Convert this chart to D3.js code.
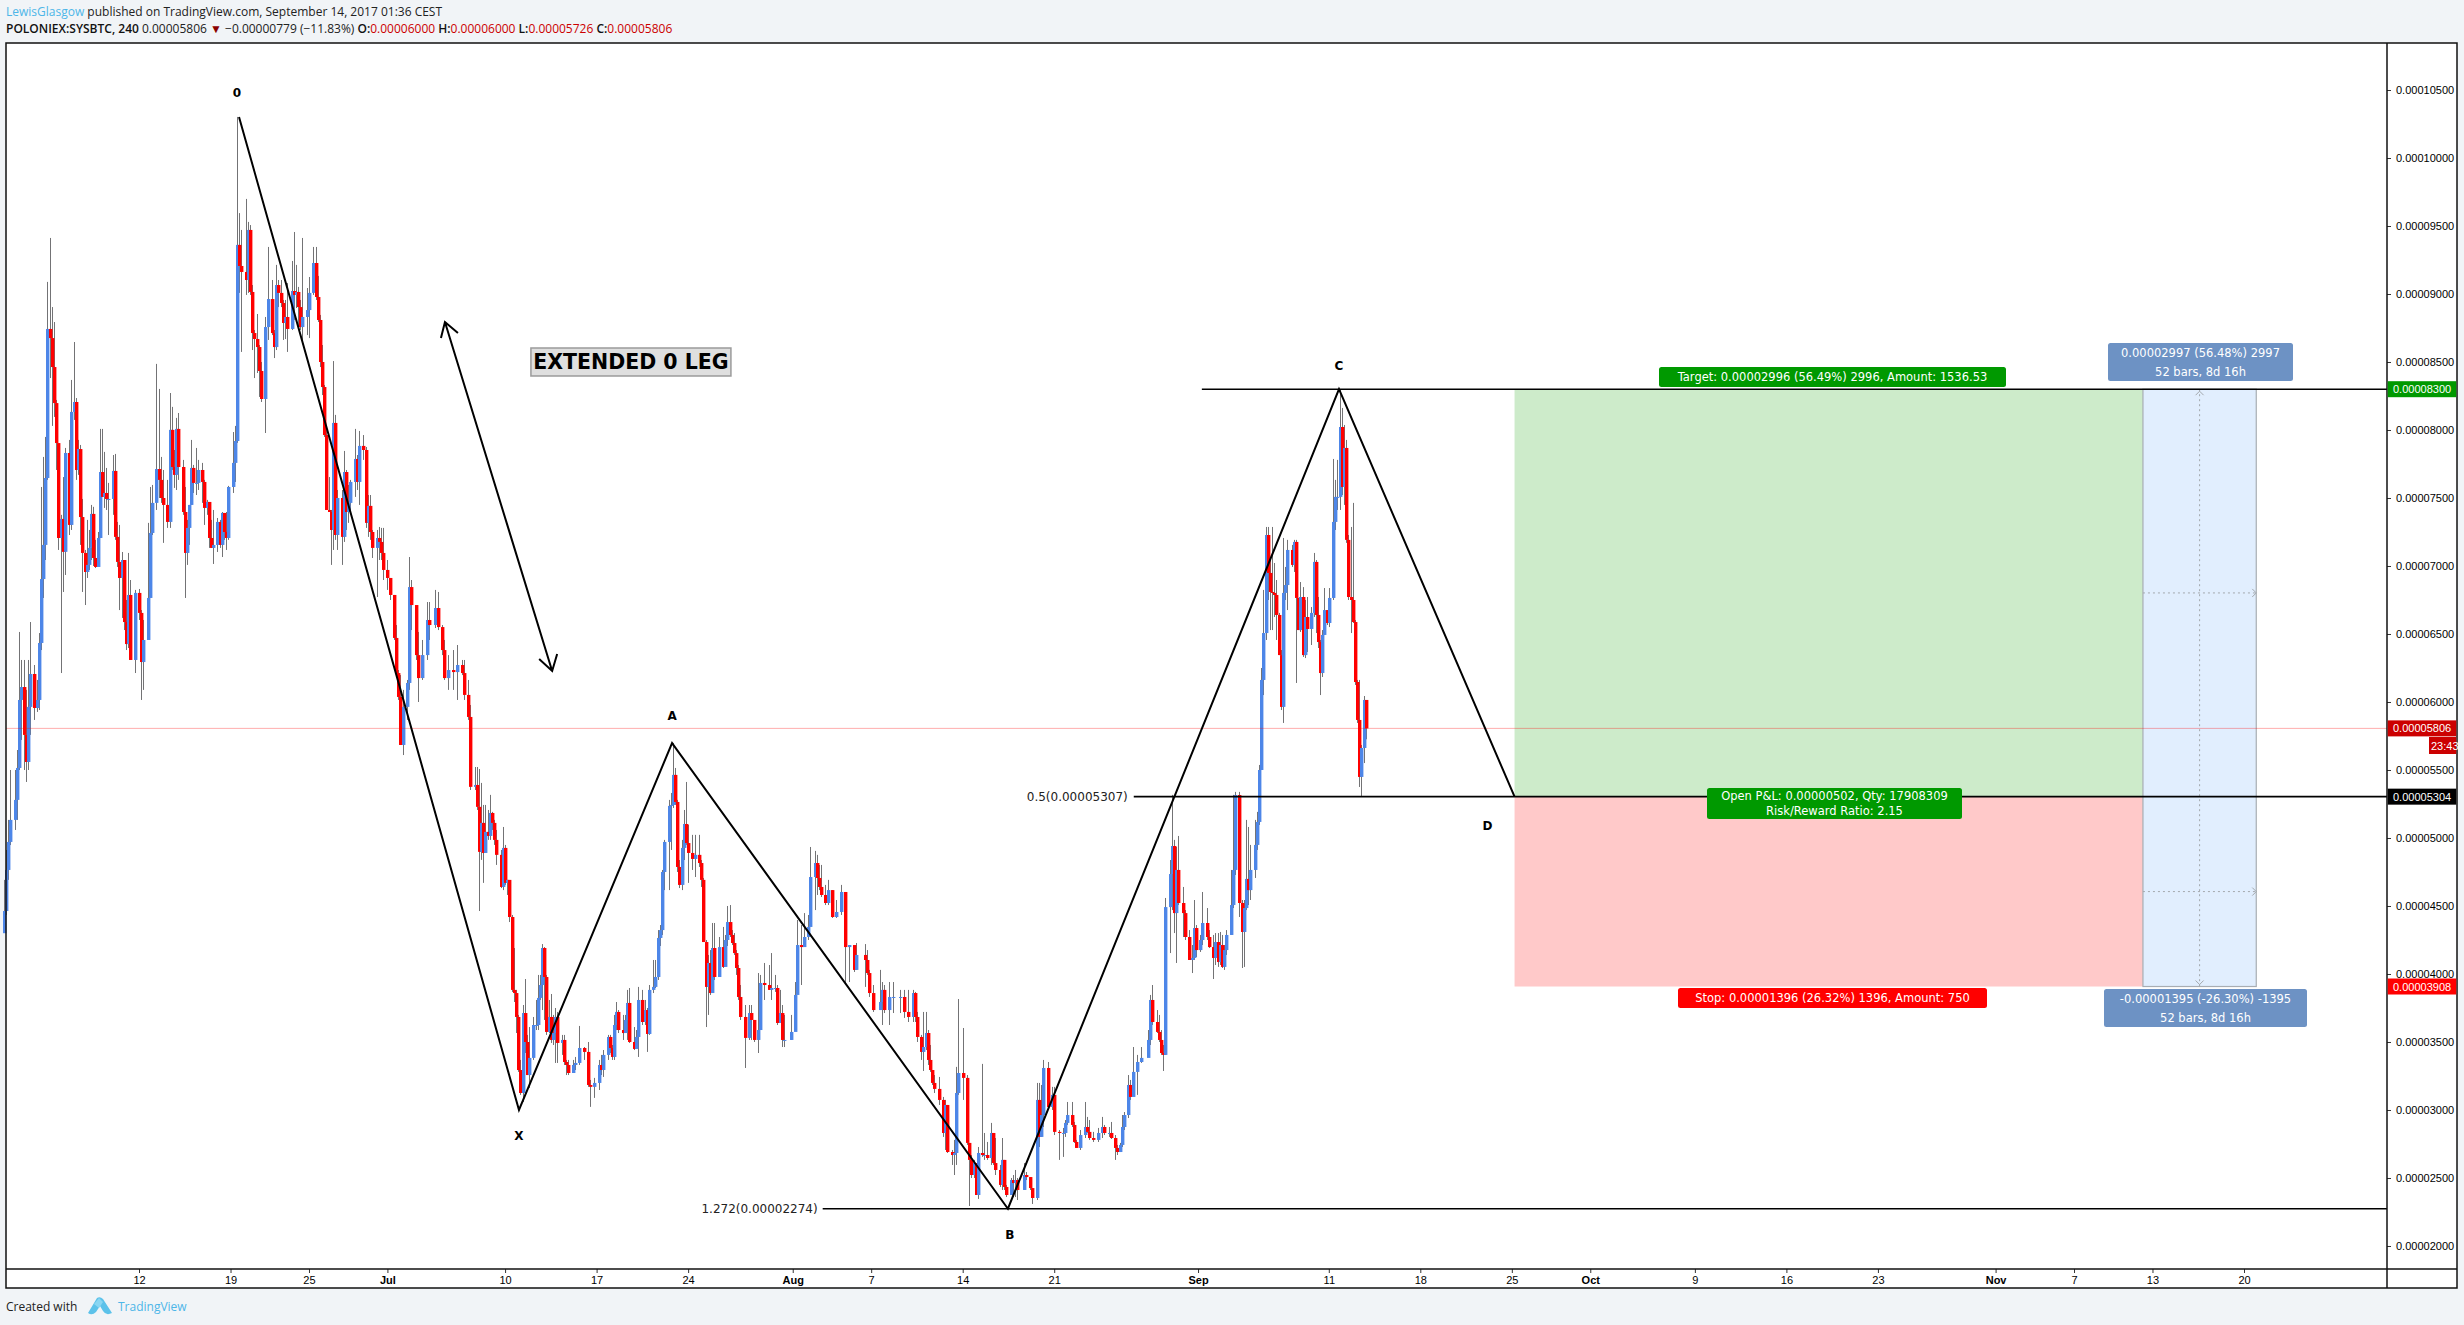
<!DOCTYPE html>
<html><head><meta charset="utf-8">
<script src="https://cdnjs.cloudflare.com/ajax/libs/d3/7.8.5/d3.min.js"></script>
<style>html,body{margin:0;padding:0;background:#f1f4f7}svg{display:block}</style>
</head><body><svg id="c" width="2464" height="1325"></svg>
<script>
// Candles: [4h bar number since 1 Jun 16:00, close, high, low], prices in 1e-8 BTC
const juneBars=[[0,4463,4692,4323],[1,4765,4912,4434],[2,4971,5133,4692],[3,5133,5500,4948],[5,5280,5500,5059],[6,5515,5647,5133],[7,6015,6515,5500],[8,6110,6309,5721],[9,5758,6309,5500],[10,5559,6089,5412],[11,5964,6309,5500],[12,6206,6588,5758],[14,5956,6272,5868],[15,6015,6162,5927],[16,6434,6507,5941],[17,6904,7581,6382],[18,7155,7802,6765],[19,7647,7949,7044],[20,8743,9089,7633],[21,8676,9412,8382],[22,8463,8904,8030],[23,8198,8794,8096],[24,7904,8221,7706],[25,7206,7890,7118],[26,7346,7376,6213],[27,7104,7654,6809],[28,7831,7868,6934],[30,7302,7927,7228],[31,8133,8368,7265],[32,8206,8647,8074],[33,7706,8235,7633],[34,7860,7927,7670],[35,7360,7890,7155],[36,7096,7493,6809],[37,6956,7118,6713],[38,7008,7339,6912],[39,7133,7265,6971],[40,7383,7449,7044],[41,7059,7435,7000],[42,6993,7192,6985],[43,7206,7250,7000],[44,7691,8008,7228],[45,7508,8008,7508],[46,7537,7839,7427],[47,7493,7721,7412],[48,7493,7611,7228],[50,7699,7816,7376],[51,7214,7824,7192],[52,7030,7324,6993],[53,6912,7302,6676],[54,7044,7103,6618],[55,6588,7044,6529],[56,6426,6750,6382],[57,6787,7096,6397],[58,6309,6897,6309],[60,6802,6824,6213],[62,6655,6831,6603],[63,6294,6676,6015],[64,6456,6603,6089],[66,6765,7317,6478],[67,7243,7581,7030],[68,7464,7596,7228],[70,7713,8486,7412],[71,7633,8302,7500],[72,7500,7802,7464],[73,7449,7706,7170],[75,7324,7633,7280],[76,8001,8272,7280],[77,7728,8170,7706],[78,7670,7853,7574],[79,8008,8089,7559],[80,7728,8125,7633],[82,7397,7780,7376],[83,7096,7581,6765],[84,7280,7339,7008],[85,7449,7449,7155],[86,7721,7927,7449],[87,7611,7743,7537],[88,7611,7868,7522],[89,7706,7780,7559],[91,7618,7758,7464],[92,7427,7633,7302],[93,7471,7486,7376],[94,7206,7449,7133],[95,7133,7339,7133],[96,7155,7412,7015],[98,7324,7353,7103],[99,7155,7339,7133],[100,7390,7397,7066],[101,7250,7390,7192],[102,7206,7397,7118],[103,7581,7589,7192],[105,7758,7985,7537],[106,7919,8030,7618],[107,9361,10302,7905],[108,9206,9595,9008],[109,9162,9471,8574],[111,9103,9699,8993],[112,9471,9530,9008],[113,9015,9507,8993],[114,8713,9066,8588],[115,8669,8735,8382],[116,8610,8853,8419],[117,8434,8625,8243],[118,8228,8500,8206],[120,8757,8831,7978],[121,8963,9346,8662],[123,8713,9103,8698],[124,8610,8735,8529],[125,9066,9214,8588],[126,9008,9103,8904],[127,8934,9103,8904],[128,8787,8956,8662],[129,8831,8956,8669],[130,8743,9081,8574],[132,9022,9243,8735],[133,8993,9456,8809],[134,9015,9214,8897],[135,8904,9052,8757],[136,8757,8956,8735],[137,8831,9412,8662],[139,8882,9044,8698],[140,9008,9125,8676],[142,9228,9346,8993],[143,8978,9346,8956],[144,8809,9133,8794],[145,8500,8846,8463],[146,8316,8625,8257],[147,7963,8331,7949],[148,7412,8001,7412],[149,7397,7654,7397],[150,7265,7412,7008],[151,8052,8507,7118],[152,7228,8111,7192],[153,7500,7559,7118],[155,7214,7559,7008],[156,7691,7846,7177],[157,7397,7706,7265],[158,7464,7596,7317],[159,7618,7633,7412],[161,7787,8008,7508],[162,7618,7816,7559],[163,7883,7993,7449],[165,7853,7963,7780],[166,7317,7875,7280],[167,7442,7522,7214],[168,7250,7522,7192],[169,7133,7265,7059],[171,7206,7265,6772],[172,7177,7287,7044],[173,7096,7280,7044],[174,6971,7280,6897],[176,6912,7044,6824]];
const julyBars=[[177,6787,6912,6750],[179,6471,6787,6456],[180,6213,6566,6184],[181,6037,6235,6015],[182,5684,6198,5684],[183,5964,6089,5610],[185,6140,6162,5868],[186,6845,7066,6089],[187,6713,6897,6529],[189,6345,6655,6309],[190,6176,6515,6000],[192,6345,6456,6162],[194,6603,6735,6309],[195,6566,6735,6456],[198,6691,6824,6544],[199,6551,6809,6529],[201,6382,6566,6345],[202,6176,6456,6162],[204,6235,6345,6089],[206,6220,6382,6089],[208,6272,6419,6015],[210,6213,6309,6198],[211,6052,6309,6015],[213,5890,6162,5868],[214,5376,5978,5353],[216,5390,5522,5353],[217,5229,5522,5206],[218,4898,5507,4463],[219,5111,5405,4839],[220,4890,5243,4670],[221,5045,5243,4898],[222,5015,5206,4986],[223,5184,5317,4986],[224,5111,5192,5059],[225,4986,5133,4949],[226,4876,5059,4802],[228,4640,4912,4632],[229,4927,5081,4617],[230,4670,4949,4655],[231,4692,4692,4581],[232,4419,4655,4382],[233,3883,4434,3868],[234,3860,4191,3794],[235,3684,3883,3566],[236,3294,3699,3280],[237,3125,3368,3111],[238,3713,3772,3059],[239,3500,3963,3419],[240,3257,3552,3257],[241,3383,3610,3162],[243,3625,3684,3368],[244,3625,3809,3588],[245,3824,3993,3588],[246,3919,3993,3809],[247,4191,4220,3735],[248,3978,4198,3662],[249,3574,3993,3552],[250,3684,3809,3566],[251,3515,3853,3493],[252,3566,3699,3478],[253,3684,3750,3346],[254,3493,3721,3346],[256,3515,3552,3405],[257,3353,3552,3331],[258,3331,3368,3257],[259,3272,3368,3257],[261,3331,3368,3272],[262,3346,3390,3294],[264,3456,3618,3331],[266,3427,3463,3368],[268,3184,3500,3170],[269,3170,3221,3023],[271,3199,3236,3089],[273,3331,3368,3147],[274,3294,3405,3257],[275,3405,3441,3243],[277,3537,3552,3368],[278,3456,3552,3419],[279,3390,3478,3368],[280,3625,3699,3368],[281,3721,3794,3588],[282,3588,3735,3566],[284,3566,3699,3515],[285,3662,3699,3566],[286,3787,3883,3515],[287,3500,3897,3493],[289,3449,3610,3441],[290,3537,3588,3463],[291,3809,3905,3390],[293,3647,3883,3625],[294,3735,3809,3625],[295,3559,3750,3427],[296,3883,3919,3552],[298,3905,4103,3860],[299,3978,4103,3897],[300,4265,4323,3956],[301,4323,4360,4206],[302,4750,4765,4287],[303,4971,4986,4617],[305,5236,5280,4617],[306,5243,5331,4912],[307,5464,5699,5221],[308,5265,5515,5243],[309,4787,5280,4750],[310,4655,4838,4632],[311,4927,4986,4617],[312,5103,5206,4838],[313,4963,5412,4949],[314,4890,5096,4670],[316,4846,5023,4765],[317,4876,5023,4713],[319,4816,5023,4787],[320,4692,4838,4640],[321,4235,4706,4235],[322,3905,4250,3610],[323,4081,4140,3699],[324,3860,4176,3846],[325,4191,4375,3905],[326,3978,4375,3956],[328,4198,4272,4103],[330,4052,4346,4044],[331,4250,4287,4103],[332,4382,4500,4206],[333,4287,4507,4272],[334,4228,4323,4213],[335,4154,4301,4140],[336,4044,4176,3993],[337,3831,4066,3809],[338,3684,3919,3662],[340,3530,3772,3309],[342,3713,3772,3515],[343,3662,3772,3515],[344,3515,3662,3500],[346,3588,4007,3419],[347,3934,3993,3625],[349,3919,4081,3809],[351,3883,4066,3883],[352,3897,4154,3809],[354,3897,3993,3868],[355,3640,3919,3625],[356,3713,3883,3699],[357,3515,3772,3463],[358,3515,3699,3463],[361,3574,3699,3515]];
const augustBars=[[363,3846,3941,3684],[364,4213,4397,3934],[366,4198,4360,3919],[367,4272,4448,4213],[369,4346,4434,4250],[370,4713,4934,4404],[372,4816,4905,4470],[373,4706,4876,4581],[374,4640,4802,4617],[375,4581,4802,4566],[377,4522,4655,4507],[378,4617,4692,4507],[380,4419,4617,4412],[382,4456,4544,4412],[384,4603,4655,4434],[386,4198,4603,3934],[388,4213,4213,3941],[390,4030,4198,4015],[391,4140,4228,4030],[395,4103,4220,3905],[396,4007,4176,3993],[397,3860,4030,3831],[399,3735,3919,3721],[402,3794,4030,3735],[403,3883,3941,3625],[404,3735,3919,3713],[406,3831,3941,3625],[408,3831,3941,3713],[411,3831,3883,3713],[413,3721,3883,3677],[415,3684,3883,3647],[417,3860,3883,3647],[418,3684,3868,3647],[419,3537,3721,3500],[421,3427,3552,3368],[422,3463,3721,3287],[423,3566,3721,3441],[424,3368,3588,3331],[425,3294,3478,3280],[426,3199,3257,3184],[427,3155,3257,3125],[429,3074,3243,3037],[431,2831,3096,2802],[432,3037,3074,2706],[433,2691,3037,2684],[435,2669,2706,2596],[436,2684,2780,2522],[437,3125,3317,2596],[438,3272,3816,3111],[440,3236,3603,3074],[442,2758,3257,2743],[443,2633,2758,2294],[444,2522,2669,2500],[445,2610,2633,2500],[446,2375,2610,2375],[447,2684,2728,2346],[449,2669,3339,2655],[450,2669,2831,2633],[451,2647,2765,2633],[453,2831,2905,2596],[454,2610,2831,2596],[455,2559,2794,2522],[457,2449,2596,2434],[458,2633,2794,2412],[459,2434,2633,2412],[460,2375,2449,2360],[462,2485,2500,2375],[463,2463,2522,2360],[464,2485,2559,2360],[465,2412,2500,2338],[468,2522,2610,2412],[469,2507,2544,2485],[471,2426,2507,2412],[472,2353,2426,2309],[474,3074,3199,2338],[475,2802,3199,2728],[476,2963,3184,2802],[477,3309,3368,2875],[479,3022,3353,3015],[481,3111,3170,3000],[482,2839,3170,2816],[484,2831,2853,2633],[486,2831,2868,2655],[487,2905,2926,2802],[488,2963,3059,2890],[490,2890,3059,2875],[491,2765,2912,2758],[492,2721,2780,2721],[494,2816,2853,2706],[496,2875,3059,2794],[497,2839,2949,2831],[498,2794,2926,2780],[500,2780,2839,2765],[502,2831,2868,2765],[504,2875,2949,2794],[505,2831,2890,2816],[507,2831,2875,2802],[508,2794,2912,2787],[510,2721,2816,2633],[511,2691,2743,2669],[512,2743,2758,2691],[513,2875,2963,2728],[514,2963,2985,2853],[516,3184,3257,2941],[517,3096,3221,3074],[518,3280,3463,3111],[520,3353,3405,3111],[522,3383,3463,3346],[525,3515,3588,3441],[526,3809,3846,3478],[527,3647,3919,3625],[529,3574,3735,3566],[530,3515,3699,3500],[531,3419,3588,3405],[532,3405,3478,3287],[533,4492,4559,3405],[535,4735,4838,4154],[536,4941,5317,4470],[537,4448,4986,4301],[538,4765,4934,4081],[539,4522,5015,4507],[541,4448,4640,4272],[542,4272,4470,4250],[544,4103,4323,4103],[545,4118,4213,4007],[546,4338,4544,4103],[547,4176,4360,4125]];
const septemberBars=[[549,4250,4287,4162],[550,4375,4603,4213],[552,4272,4485,4250],[553,4198,4323,4191],[555,4118,4287,3963],[556,4235,4301,4066],[557,4088,4301,4052],[558,4213,4309,4066],[559,4052,4287,4044],[560,4176,4213,4030],[561,4287,4323,4140],[563,4507,4765,4287],[564,4765,5317,4485],[565,5316,5339,4728],[567,4522,5339,4419],[568,4309,4544,4044],[569,4485,4544,4052],[570,4699,5133,4470],[571,4617,5081,4507],[572,4765,4949,4544],[574,4949,5133,4706],[575,5118,5192,4912],[576,5500,5537,5096],[577,6162,6250,5500],[578,6507,6824,6051],[579,7228,7287,6456],[580,6949,7287,6750],[581,6809,7044,6529],[582,6802,7287,6529],[583,6787,7022,6625],[584,6640,6897,6456],[585,6345,6655,6345],[586,5964,6382,5941],[587,6802,7206,5846],[588,6860,6993,6750],[589,7118,7192,6676],[591,7008,7155,6993],[592,7177,7192,6956],[593,6765,7192,6140],[594,6529,6750,6529],[595,6772,6882,6515],[596,6345,6845,6331],[597,6625,6750,6323],[598,6537,6772,6368],[600,6655,6698,6419],[601,7030,7096,6625],[602,6640,7044,6507],[603,6441,6772,6397],[604,6213,6456,6051],[605,6493,6529,6184],[606,6676,6838,6493],[607,6581,6676,6566],[608,6765,6838,6551],[610,7324,7787,6750],[611,7508,7633,7265],[612,7508,7780,7412],[613,8022,8294,7412],[614,7581,8162,7522],[615,7868,8037,7449],[616,7192,7927,7170],[617,6772,7228,6750],[618,6750,7287,6507],[619,6588,7464,6581],[620,6147,6603,6125],[621,5868,6162,5846],[622,5449,6162,5375],[623,5662,5684,5309],[624,6015,6044,5551],[625,5806,6000,5726]];

const firstOpen=4300, firstBarTime=Date.UTC(2017,5,1,16);
const priceTicks=d3.range(2000,10501,500);
const timeTickDates=[[5,12],[5,19],[5,25],[6,1],[6,10],[6,17],[6,24],[7,1],[7,7],[7,14],[7,21],[8,1],[8,11],[8,18],[8,25],[9,1],[9,9],[9,16],[9,23],[10,1],[10,7],[10,13],[10,20]];
const timeTickLabels=["12","19","25","Jul","10","17","24","Aug","7","14","21","Sep","11","18","25","Oct","9","16","23","Nov","7","13","20"];
const patternNames=["0","X","A","B","C","D"];
const patternTimes=[Date.UTC(2017,5,19,15,36),Date.UTC(2017,6,11,1,30),Date.UTC(2017,6,22,18,30),Date.UTC(2017,7,17,11),Date.UTC(2017,8,11,18,45),Date.UTC(2017,8,25,5)];
const patternPrices=[10302,3000,5698,2274,8300,5304];
const entryPrice=5304,targetPrice=8300,stopPrice=3908,lastPrice=5806;
const positionStart=patternTimes[5],positionEnd=Date.UTC(2017,10,12,6,30),measureEnd=Date.UTC(2017,10,20,22,30);
const arrowTimes=[Date.UTC(2017,6,5,9,36),Date.UTC(2017,6,13,14,24)],arrowPrices=[8794,6228];
const levelStarts={target:Date.UTC(2017,8,1,7),half:Date.UTC(2017,7,27,2),ext:Date.UTC(2017,7,3,7)};

const W=2464,H=1325,L=6,R=2387,OUT=2457,T=43,B=1269,BB=1288;
const svg=d3.select("#c");
const x=d3.scaleUtc().domain([Date.UTC(2017,5,12),Date.UTC(2017,10,20)]).range([139,2244]);
const y=d3.scaleLinear().domain([1838.2,10845.6]).range([1268,43]);
const AX="'Liberation Sans',Arial,sans-serif",DV="'DejaVu Sans',sans-serif",OS="'Open Sans',sans-serif";

svg.append("rect").attr("width",W).attr("height",H).attr("fill","#f1f4f7");
svg.append("rect").attr("x",L).attr("y",T).attr("width",OUT-L).attr("height",BB-T).attr("fill","#fff");

// position + measure boxes
const gp=svg.append("g");
gp.append("rect").attr("x",x(positionStart)).attr("width",x(positionEnd)-x(positionStart)).attr("y",y(targetPrice)).attr("height",y(entryPrice)-y(targetPrice)).attr("fill","#cdebca");
gp.append("rect").attr("x",x(positionStart)).attr("width",x(positionEnd)-x(positionStart)).attr("y",y(entryPrice)).attr("height",y(stopPrice)-y(entryPrice)).attr("fill","#ffc9c9");
gp.append("rect").attr("x",x(positionEnd)).attr("width",x(measureEnd)-x(positionEnd)).attr("y",y(targetPrice)).attr("height",y(stopPrice)-y(targetPrice)).attr("fill","#e1eefe").attr("stroke","#a8adb3").attr("stroke-width",1.2);
const mx=(x(positionEnd)+x(measureEnd))/2;
const dash="#a3a8ad";
gp.append("line").attr("x1",mx).attr("x2",mx).attr("y1",y(targetPrice)).attr("y2",y(stopPrice)).attr("stroke",dash).attr("stroke-dasharray","2 3");
[(targetPrice+entryPrice)/2,(entryPrice+stopPrice)/2].forEach(p=>{
  gp.append("line").attr("x1",x(positionEnd)).attr("x2",x(measureEnd)).attr("y1",y(p)).attr("y2",y(p)).attr("stroke",dash).attr("stroke-dasharray","2 3");
  gp.append("path").attr("fill","none").attr("stroke",dash).attr("d",`M${x(measureEnd)-4},${y(p)-4}L${x(measureEnd)},${y(p)}L${x(measureEnd)-4},${y(p)+4}`);
});
gp.append("path").attr("fill","none").attr("stroke",dash).attr("d",`M${mx-4},${y(targetPrice)+6}L${mx},${y(targetPrice)+2}L${mx+4},${y(targetPrice)+6}`);
gp.append("path").attr("fill","none").attr("stroke",dash).attr("d",`M${mx-4},${y(stopPrice)-6}L${mx},${y(stopPrice)-2}L${mx+4},${y(stopPrice)-6}`);

// candles
const bars=[...juneBars,...julyBars,...augustBars,...septemberBars].map((b,i,a)=>({
  t:firstBarTime+b[0]*4*3600e3,open:i?a[i-1][1]:firstOpen,close:b[1],high:b[2],low:b[3]}));
const gc=svg.append("g");
gc.selectAll("line").data(bars).join("line")
  .attr("x1",d=>Math.round(x(d.t))+.5).attr("x2",d=>Math.round(x(d.t))+.5)
  .attr("y1",d=>y(d.high)).attr("y2",d=>y(d.low)).attr("stroke","#737375").attr("stroke-width",1);
gc.selectAll("rect").data(bars).join("rect")
  .attr("x",d=>Math.round(x(d.t))-1).attr("width",3.4)
  .attr("y",d=>y(Math.max(d.open,d.close))).attr("height",d=>Math.max(1,Math.abs(y(d.open)-y(d.close))))
  .attr("fill",d=>d.close>=d.open?"#4d86e8":"#ff0000");

// last price line
svg.append("line").attr("x1",L).attr("x2",R).attr("y1",y(lastPrice)).attr("y2",y(lastPrice)).attr("stroke","#ff0000").attr("stroke-opacity",.32).attr("stroke-width",1);

// levels
const lev=svg.append("g").attr("stroke","#000").attr("stroke-width",1.6);
lev.append("line").attr("x1",x(levelStarts.target)).attr("x2",R).attr("y1",y(targetPrice)).attr("y2",y(targetPrice));
lev.append("line").attr("x1",x(levelStarts.half)).attr("x2",R).attr("y1",y(entryPrice)).attr("y2",y(entryPrice));
lev.append("line").attr("x1",x(levelStarts.ext)).attr("x2",R).attr("y1",y(2274)).attr("y2",y(2274));
const txt=(s,px,py,o={})=>svg.append("text").attr("x",px).attr("y",py).attr("font-family",o.f||DV).attr("font-size",o.s||12).attr("font-weight",o.w||400).attr("fill",o.c||"#000").attr("text-anchor",o.a||"start").attr("dominant-baseline",o.b||"auto").text(s);
txt("0.5(0.00005307)",x(levelStarts.half)-6,y(entryPrice)+4,{a:"end",c:"#222"});
txt("1.272(0.00002274)",x(levelStarts.ext)-5,y(2274)+4,{a:"end",c:"#222"});

// pattern
const line=d3.line().x((d,i)=>x(patternTimes[i])).y((d,i)=>y(patternPrices[i]));
svg.append("path").attr("d",line(patternTimes)).attr("fill","none").attr("stroke","#000").attr("stroke-width",2).attr("stroke-linejoin","miter");
const dy=[-24,26,-27,26,-23,29],dx=[-2,0,0,2,0,-27];
patternNames.forEach((n,i)=>txt(n,x(patternTimes[i])+dx[i],y(patternPrices[i])+dy[i]+4,{a:"middle",w:700,s:12}));

// double arrow
const ax=arrowTimes.map(t=>x(t)),ay=arrowPrices.map(p=>y(p));
svg.append("path").attr("fill","none").attr("stroke","#000").attr("stroke-width",2)
 .attr("d",`M${ax[0]},${ay[0]}L${ax[1]},${ay[1]}M${ax[0]-4},${ay[0]+16}L${ax[0]},${ay[0]}L${ax[0]+13},${ay[0]+11}M${ax[1]-13},${ay[1]-12}L${ax[1]},${ay[1]}L${ax[1]+5},${ay[1]-17}`);

// note
const nx=x(Date.UTC(2017,6,19,15)),ny=y(8500);
svg.append("rect").attr("x",nx-100).attr("y",ny-14).attr("width",200).attr("height",28).attr("fill","#dfdfdf").attr("stroke","#9b9b9b").attr("stroke-width",1.5);
txt("EXTENDED 0 LEG",nx,ny+7.5,{a:"middle",w:700,s:20.5});

// rounded labels
function badge(x0,x1,y0,y1,fill,lines,size){
  svg.append("rect").attr("x",x0).attr("y",y0).attr("width",x1-x0).attr("height",y1-y0).attr("rx",2.5).attr("fill",fill);
  const h=(y1-y0)/lines.length;
  lines.forEach((s,i)=>txt(s,(x0+x1)/2,y0+h*i+h/2+(size*.36),{a:"middle",c:"#fff",s:size}));
}
badge(1659,2006,367,387,"#009900",["Target: 0.00002996 (56.49%) 2996, Amount: 1536.53"],11.5);
badge(1707,1962,788,819,"#009900",["Open P&L: 0.00000502, Qty: 17908309","Risk/Reward Ratio: 2.15"],11.5);
badge(1678,1987,988,1008,"#ff0000",["Stop: 0.00001396 (26.32%) 1396, Amount: 750"],11.5);
badge(2108,2293,343,381,"#6d92c4",["0.00002997 (56.48%) 2997","52 bars, 8d 16h"],11.5);
badge(2104,2307,989,1027,"#6d92c4",["-0.00001395 (-26.30%) -1395","52 bars, 8d 16h"],11.5);

// axes
const fmt=v=>(v/1e8).toFixed(8);
const ya=svg.append("g").attr("transform",`translate(${R},0)`).call(d3.axisRight(y).tickValues(priceTicks).tickFormat(fmt).tickSize(4).tickPadding(5));
ya.select(".domain").remove();
ya.selectAll("text").attr("font-family",AX).attr("font-size",11).attr("fill","#000");
ya.selectAll("line").attr("stroke","#333");
const xa=svg.append("g").attr("transform",`translate(0,${B})`).call(d3.axisBottom(x).tickValues(timeTickDates.map(d=>Date.UTC(2017,d[0],d[1]))).tickFormat((d,i)=>timeTickLabels[i]).tickSize(4).tickPadding(3));
xa.select(".domain").remove();
xa.selectAll("line").attr("stroke","#333");
xa.selectAll("text").attr("font-family",AX).attr("font-size",11).attr("fill","#000").attr("font-weight",(d,i)=>/[A-Z]/.test(timeTickLabels[i])?700:400);

// frame
const fr=svg.append("g").attr("stroke","#111").attr("stroke-width",1.5).attr("fill","none");
fr.append("rect").attr("x",L).attr("y",T).attr("width",OUT-L).attr("height",BB-T);
fr.append("line").attr("x1",R).attr("x2",R).attr("y1",T).attr("y2",BB);
fr.append("line").attr("x1",L).attr("x2",OUT).attr("y1",B).attr("y2",B);

// price tags
function tag(p,fill,label,t){
  const c=y(p);
  svg.append("rect").attr("x",R+.75).attr("y",c-8).attr("width",OUT-R-1.5).attr("height",16).attr("fill",fill);
  txt(label,R+6,c+4,{f:AX,s:11,c:"#fff"});
}
tag(targetPrice,"#009900",fmt(targetPrice));
tag(lastPrice,"#cc0000",fmt(lastPrice));
svg.append("rect").attr("x",2429).attr("y",737).attr("width",OUT-2429-.75).attr("height",17).attr("fill","#cc0000");
txt("23:43",2431,749.5,{f:AX,s:11,c:"#fff"});
tag(entryPrice,"#000",fmt(entryPrice));
tag(stopPrice,"#ff0000",fmt(stopPrice));

// header
const h1=txt("",6,16,{f:OS,s:12});
h1.append("tspan").attr("fill","#4db6e8").text("LewisGlasgow");
h1.append("tspan").attr("fill","#222").text(" published on TradingView.com, September 14, 2017 01:36 CEST");
const h2=txt("",6,33,{f:OS,s:12});
const seg=[["POLONIEX:SYSBTC, 240",600,"#111"],[" 0.00005806 ",400,"#222"],["▼",400,"#8b0000"],[" −0.00000779 (−11.83%) ",400,"#222"],["O:",600,"#111"],["0.00006000 ",400,"#c00"],["H:",600,"#111"],["0.00006000 ",400,"#c00"],["L:",600,"#111"],["0.00005726 ",400,"#c00"],["C:",600,"#111"],["0.00005806",400,"#c00"]];
seg.forEach(s=>h2.append("tspan").attr("font-weight",s[1]).attr("fill",s[2]).text(s[0]));

// footer
txt("Created with",6,1311,{f:OS,s:12,c:"#222"});
svg.append("path").attr("fill","#5cc2ea").attr("d","M88,1313 L97,1298 Q100,1296 103,1299 L112,1313 Q106,1316 103,1311 L100,1306 L96,1312 Q92,1316 88,1313Z");
svg.append("path").attr("fill","#8ad6f2").attr("d","M94,1304 L99,1298 L103,1302 L99,1308Z");
txt("TradingView",118,1311,{f:OS,s:12,c:"#4db6e8"});
</script></body></html>
